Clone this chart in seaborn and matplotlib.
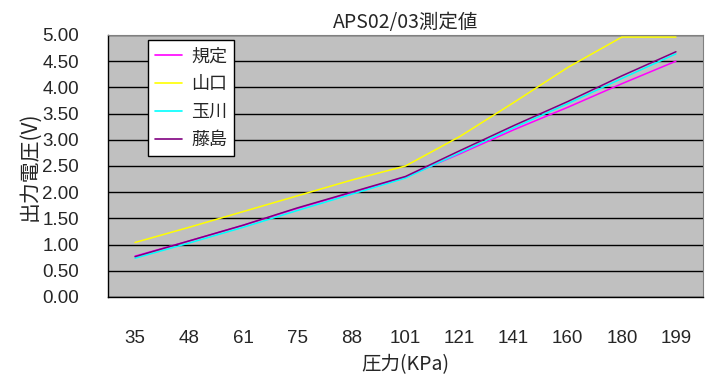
import pandas as pd
import seaborn as sns
import matplotlib.pyplot as plt

pressure = ['35', '48', '61', '75', '88', '101', '121', '141', '160', '180', '199']
kitei = [0.78, 1.07, 1.37, 1.69, 1.99, 2.29, 2.73, 3.19, 3.62, 4.07, 4.50]
yamaguchi = [1.04, 1.33, 1.63, 1.93, 2.23, 2.50, 3.06, 3.71, 4.38, 4.96, 4.96]
tamagawa = [0.74, 1.03, 1.33, 1.65, 1.96, 2.27, 2.75, 3.23, 3.69, 4.17, 4.64]
fujishima = [0.77, 1.07, 1.37, 1.70, 2.00, 2.30, 2.79, 3.27, 3.73, 4.22, 4.68]
series_names = ['規定', '山口', '玉川', '藤島']
colors = ['#FF00FF', '#FFFF00', '#00FFFF', '#800080']

rows = []
for name, vals in zip(series_names, [kitei, yamaguchi, tamagawa, fujishima]):
    for i, v in enumerate(vals):
        rows.append({'idx': i, 'kPa': pressure[i], 'V': v, 'name': name})
df = pd.DataFrame(rows)

sns.set_style('white')
plt.rcParams['font.family'] = ['Liberation Sans', 'Noto Sans CJK JP']

fig = plt.figure(figsize=(7.1, 3.79), dpi=100)
ax = fig.add_axes([0.1521, 0.2164, 0.838, 0.6913])
ax.set_facecolor('#C0C0C0')

sns.lineplot(data=df, x='idx', y='V', hue='name', palette=colors,
             hue_order=series_names, linewidth=1.1, ax=ax)

ax.set_xlim(-0.5, 10.5)
ax.set_ylim(0, 5)
ax.set_yticks([i * 0.5 for i in range(11)])
ax.set_yticklabels([f'{i * 0.5:.2f}' for i in range(11)], fontsize=13.5)
ax.yaxis.grid(True, color='black', linewidth=1)
ax.tick_params(axis='y', length=0, pad=21)

ax.set_xticks(range(len(pressure)))
ax.set_xticklabels(pressure, fontsize=13.5)
ax.set_xticks([i + 0.5 for i in range(10)], minor=True)
ax.tick_params(axis='x', which='major', length=0, pad=24)
ax.tick_params(axis='x', which='minor', direction='in', length=5, width=1,
               color='black')
for s in ['top', 'right']:
    ax.spines[s].set_color('#808080')
for s in ['left', 'bottom']:
    ax.spines[s].set_color('black')
    ax.spines[s].set_linewidth(1)

ax.set_xlabel('圧力(KPa)', fontsize=14, family=['Noto Sans CJK JP'], labelpad=5)
ax.set_ylabel('出力電圧(V)', fontsize=15, family=['Noto Sans CJK JP'], labelpad=1)
ax.set_title('APS02/03測定値', fontsize=14, family=['Noto Sans CJK JP'], pad=5)

leg = ax.legend(loc='upper left', bbox_to_anchor=(0.067, 0.981), frameon=True,
                fancybox=False, framealpha=1, edgecolor='black',
                prop={'family': 'Noto Sans CJK JP', 'size': 13},
                handlelength=1.5, handletextpad=0.5, labelspacing=0.55,
                borderpad=0.4, borderaxespad=0)
leg.get_frame().set_linewidth(1)
for line in leg.get_lines():
    line.set_linewidth(1.2)

fig.savefig('out.png', dpi=100)
